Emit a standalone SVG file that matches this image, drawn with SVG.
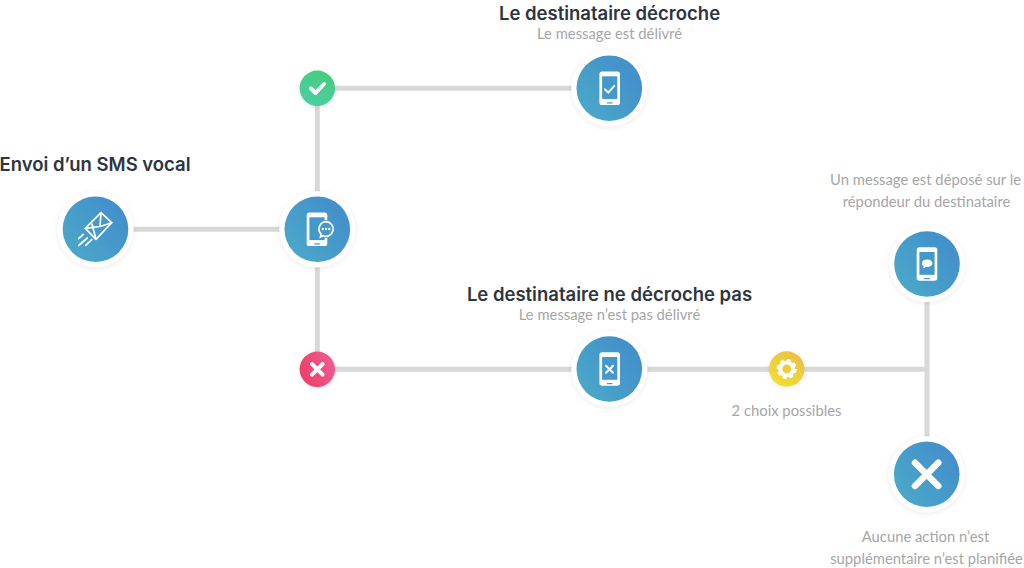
<svg xmlns="http://www.w3.org/2000/svg" width="1024" height="568" viewBox="0 0 1024 568">
<style>
.t{font-family:"Inter","Lato",sans-serif;font-weight:600;font-size:18.500px;fill:#2d3540;text-anchor:middle}
.s{font-family:"Lato","Open Sans",sans-serif;font-size:14.800px;fill:#a6a6a6;text-anchor:middle}
.c{fill:none;stroke:#d8d8d8;stroke-width:5}
.ring{fill:#fff;filter:url(#sh)}
.w{fill:none;stroke:#fff;stroke-linecap:round;stroke-linejoin:round}
</style>
<defs>
<filter id="sh" x="-30%" y="-30%" width="160%" height="160%"><feDropShadow dx="0" dy="1" stdDeviation="2.500" flood-color="#000" flood-opacity=".09"/></filter>
<linearGradient id="b" x1="0" y1="1" x2="1" y2="0.2"><stop offset="0" stop-color="#4bacc8"/><stop offset="1" stop-color="#428dcb"/></linearGradient>
<linearGradient id="g" x1="0.3" y1="1" x2="0.8" y2="0"><stop offset="0" stop-color="#4bcea6"/><stop offset="1" stop-color="#44cd78"/></linearGradient>
<linearGradient id="r" x1="0" y1="0.7" x2="1" y2="0.3"><stop offset="0" stop-color="#ee3d68"/><stop offset="1" stop-color="#ef5c92"/></linearGradient>
<linearGradient id="y" x1="0.2" y1="1" x2="0.8" y2="0"><stop offset="0" stop-color="#f0e132"/><stop offset="1" stop-color="#ecbd45"/></linearGradient>
<g id="disc"><circle class="ring" r="38"/><circle r="32.800" fill="url(#b)"/></g>
<g id="phone"><rect x="-10.300" y="-16.700" width="20.600" height="33.400" rx="2.600" fill="#fff"/><rect x="-7.600" y="-12" width="15.200" height="22.800" fill="#4599ca"/><rect x="-2.800" y="14" width="5.600" height="1.200" fill="#4599ca"/></g>
</defs>
<g id="connectors">
<path class="c" d="M96 229.300H317M317.300 88V369M317 88.300H609M317 369.300H927M927 264V475"/>
</g>
<g id="node-send">
<use href="#disc" x="95.500" y="229.300"/>
<g class="w" stroke-width="1.700">
<path d="M101 212.700L111.700 222.700L96 239.300L85.300 228.300Z"/>
<path d="M85.300 228.300L100 226.500L101 212.700M92 224L96 239.300M100 226.500L111.700 222.700"/>
<path d="M78.700 238.500L83.300 234.300M78.700 245.500L87.300 238M85.700 245.300L91.700 239.700"/>
</g>
</g>
<g id="node-phone-chat">
<use href="#disc" x="317.300" y="229.300"/>
<use href="#phone" x="317" y="229.300"/>
<circle cx="326" cy="229" r="9" fill="#4599ca"/>
<path d="M326 221.700a7.300 7.300 0 1 1-3 14l-2.500 1.300.5-3a7.300 7.300 0 0 1 5-12.300Z" fill="#4599ca" stroke="#fff" stroke-width="1.700"/>
<g fill="#fff"><circle cx="322.700" cy="229" r="1.200"/><circle cx="326" cy="229" r="1.200"/><circle cx="329.300" cy="229" r="1.200"/></g>
</g>
<g id="node-check">
<circle cx="317.300" cy="88.300" r="17.700" fill="url(#g)" filter="url(#sh)"/>
<path class="w" stroke-width="4" d="M311 88.500L315.500 93L324 84"/>
</g>
<g id="node-phone-ok">
<use href="#disc" x="609.300" y="88.300"/>
<use href="#phone" x="609.700" y="88.300"/>
<path class="w" stroke-width="1.900" d="M605 89.300L608.300 92.700L614.300 85.800"/>
</g>
<g id="node-cross">
<circle cx="317.300" cy="369.300" r="17.700" fill="url(#r)" filter="url(#sh)"/>
<path class="w" stroke-width="4" d="M312 364L322.600 374.600M322.600 364L312 374.600"/>
</g>
<g id="node-phone-ko">
<use href="#disc" x="609.300" y="369"/>
<use href="#phone" x="609.700" y="369"/>
<path class="w" stroke-width="2" d="M606 365.700L613 372.700M613 365.700L606 372.700"/>
</g>
<g id="node-gear">
<circle cx="786.700" cy="369" r="17.700" fill="url(#y)" filter="url(#sh)"/>
<circle cx="786.700" cy="369" r="6.500" fill="none" stroke="#fff" stroke-width="4"/>
<circle cx="786.700" cy="369" r="8.800" fill="none" stroke="#fff" stroke-width="2.600" stroke-dasharray="3.900 3"/>
</g>
<g id="node-phone-msg">
<use href="#disc" x="927" y="264"/>
<use href="#phone" x="927" y="264"/>
<path d="M927 259.500c3.400 0 5.500 1.700 5.500 3.700s-2.100 3.700-5.500 3.700l-1.300 0-2.500 1.600.4-2.300c-1.100-.7-1.700-1.800-1.700-3 0-2 1.900-3.700 5.100-3.700Z" fill="#fff"/>
</g>
<g id="node-none">
<use href="#disc" x="926.700" y="474.300"/>
<path class="w" stroke-width="6.500" d="M915 462.700L938.300 486M938.300 462.700L915 486"/>
</g>
<g id="labels">
<text class="t" x="609.500" y="19.500">Le destinataire décroche</text>
<text class="s" x="609.500" y="39">Le message est délivré</text>
<text class="t" x="95" y="170.500">Envoi d’un SMS vocal</text>
<text class="t" x="609.500" y="300.500">Le destinataire ne décroche pas</text>
<text class="s" x="609.500" y="320">Le message n’est pas délivré</text>
<text class="s" x="786.500" y="416">2 choix possibles</text>
<text class="s" x="925.500" y="185">Un message est déposé sur le</text>
<text class="s" x="926.500" y="207">répondeur du destinataire</text>
<text class="s" x="925.500" y="542">Aucune action n’est</text>
<text class="s" x="926.500" y="564">supplémentaire n’est planifiée</text>
</g>
</svg>
